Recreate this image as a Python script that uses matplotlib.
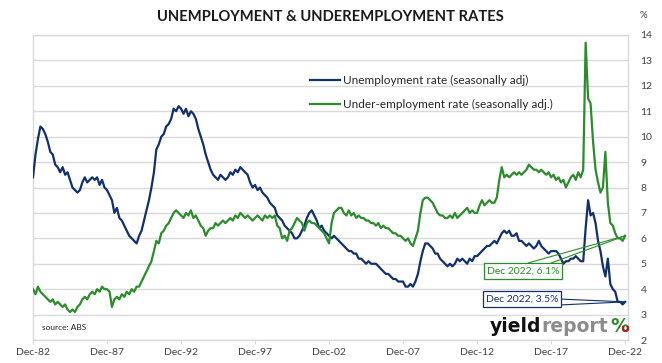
import matplotlib
matplotlib.use('Agg')
import matplotlib.pyplot as plt
import pandas as pd
from matplotlib.transforms import Bbox

# bi-monthly readings (Dec, Feb, Apr, ...) from Dec 1982 to Dec 2022
dates = pd.date_range('1982-12-01', '2022-12-01', freq='2MS')

unemployment = [8.4,
    9.3, 9.9, 10.4, 10.3, 10.1, 9.8,     # 1983
    9.4, 9.3, 8.9, 8.8, 8.6, 8.8,        # 1984
    8.5, 8.6, 8.3, 8.0, 7.9, 7.8,        # 1985
    7.9, 8.2, 8.4, 8.2, 8.3, 8.4,        # 1986
    8.3, 8.4, 8.1, 8.3, 8.0, 7.9,        # 1987
    7.7, 7.5, 7.0, 7.2, 6.8, 6.7,        # 1988
    6.5, 6.3, 6.1, 6.0, 5.9, 5.8,        # 1989
    6.1, 6.3, 6.7, 7.1, 7.5, 8.0,        # 1990
    8.6, 9.5, 9.7, 10.0, 10.1, 10.4,     # 1991
    10.5, 10.7, 11.1, 11.0, 11.2, 11.1,  # 1992
    10.9, 11.1, 10.8, 11.0, 10.9, 10.7,  # 1993
    10.3, 10.0, 9.7, 9.3, 9.0, 8.7,      # 1994
    8.5, 8.4, 8.3, 8.5, 8.4, 8.3,        # 1995
    8.4, 8.6, 8.5, 8.7, 8.6, 8.8,        # 1996
    8.7, 8.6, 8.5, 8.2, 8.0, 8.1,        # 1997
    7.9, 8.0, 7.8, 7.7, 7.6, 7.4,        # 1998
    7.3, 7.2, 6.9, 6.8, 6.7, 6.5,        # 1999
    6.4, 6.3, 6.2, 6.0, 6.0, 6.1,        # 2000
    6.3, 6.5, 6.8, 7.0, 7.1, 6.9,        # 2001
    6.7, 6.4, 6.5, 6.3, 6.2, 6.1,        # 2002
    6.0, 6.1, 6.0, 5.9, 5.8, 5.7,        # 2003
    5.6, 5.5, 5.5, 5.4, 5.4, 5.2,        # 2004
    5.2, 5.1, 5.0, 5.1, 5.0, 5.0,        # 2005
    5.0, 4.9, 4.8, 4.7, 4.6, 4.6,        # 2006
    4.5, 4.4, 4.4, 4.3, 4.3, 4.3,        # 2007
    4.1, 4.1, 4.2, 4.1, 4.3, 4.6,        # 2008
    5.1, 5.5, 5.8, 5.8, 5.7, 5.6,        # 2009
    5.4, 5.4, 5.2, 5.1, 5.0, 4.9,        # 2010
    5.0, 4.9, 5.0, 5.2, 5.1, 5.2,        # 2011
    5.1, 5.0, 5.2, 5.1, 5.3, 5.3,        # 2012
    5.4, 5.5, 5.6, 5.7, 5.7, 5.8,        # 2013
    5.9, 5.8, 6.0, 6.2, 6.3, 6.2,        # 2014
    6.3, 6.1, 6.1, 6.2, 5.9, 5.9,        # 2015
    5.8, 5.7, 5.8, 5.7, 5.6, 5.7,        # 2016
    5.9, 5.7, 5.6, 5.5, 5.4, 5.5,        # 2017
    5.5, 5.5, 5.4, 5.2, 5.0, 5.1,        # 2018
    5.1, 5.2, 5.2, 5.3, 5.2, 5.1,        # 2019
    5.1, 6.4, 7.5, 6.9, 7.0, 6.6,        # 2020
    5.9, 5.5, 4.9, 4.5, 5.2, 4.2,        # 2021
    4.0, 3.9, 3.5, 3.5, 3.4, 3.5]        # 2022

underemployment = [4.0,
    3.8, 4.1, 3.9, 3.8, 3.7, 3.6,        # 1983
    3.5, 3.6, 3.4, 3.5, 3.4, 3.3,        # 1984
    3.4, 3.2, 3.1, 3.2, 3.1, 3.3,        # 1985
    3.4, 3.6, 3.7, 3.6, 3.8, 3.9,        # 1986
    3.8, 4.0, 3.9, 4.1, 4.0, 4.0,        # 1987
    3.9, 3.3, 3.6, 3.7, 3.6, 3.8,        # 1988
    3.7, 3.9, 3.8, 4.0, 3.9, 4.1,        # 1989
    4.1, 4.3, 4.5, 4.7, 4.9, 5.1,        # 1990
    5.5, 5.9, 5.8, 6.2, 6.3, 6.5,        # 1991
    6.6, 6.8, 7.0, 7.1, 7.0, 6.9,        # 1992
    6.8, 7.0, 6.9, 7.1, 6.8, 6.9,        # 1993
    6.7, 6.5, 6.4, 6.1, 6.3, 6.4,        # 1994
    6.4, 6.6, 6.5, 6.6, 6.7, 6.6,        # 1995
    6.7, 6.8, 6.7, 6.9, 6.8, 7.0,        # 1996
    6.9, 6.8, 6.9, 6.8, 6.7, 6.8,        # 1997
    6.9, 6.8, 6.7, 6.9, 6.8, 6.9,        # 1998
    6.8, 6.9, 6.5, 6.4, 6.0, 6.1,        # 1999
    5.9, 6.3, 6.4, 6.6, 6.8, 6.7,        # 2000
    6.6, 6.3, 6.6, 6.7, 6.6, 6.6,        # 2001
    6.5, 6.4, 6.3, 6.2, 6.0, 5.8,        # 2002
    6.6, 7.0, 7.1, 7.2, 7.2, 7.0,        # 2003
    6.9, 7.1, 6.9, 7.0, 6.8, 6.9,        # 2004
    6.8, 6.8, 6.7, 6.7, 6.6, 6.6,        # 2005
    6.5, 6.6, 6.4, 6.5, 6.4, 6.4,        # 2006
    6.3, 6.2, 6.2, 6.1, 6.1, 6.0,        # 2007
    5.9, 6.0, 5.8, 5.7, 6.0, 6.3,        # 2008
    7.0, 7.5, 7.6, 7.6, 7.5, 7.4,        # 2009
    7.2, 7.0, 6.9, 6.9, 6.8, 6.8,        # 2010
    6.9, 6.8, 7.0, 6.8, 6.9, 7.0,        # 2011
    7.1, 7.2, 7.0, 7.1, 7.0, 7.0,        # 2012
    7.3, 7.5, 7.3, 7.4, 7.5, 7.4,        # 2013
    7.4, 7.6, 8.3, 8.8, 8.4, 8.5,        # 2014
    8.4, 8.5, 8.6, 8.5, 8.6, 8.5,        # 2015
    8.6, 8.7, 8.9, 8.8, 8.7, 8.7,        # 2016
    8.6, 8.7, 8.6, 8.5, 8.6, 8.4,        # 2017
    8.5, 8.3, 8.4, 8.2, 8.3, 8.0,        # 2018
    8.2, 8.4, 8.5, 8.3, 8.6, 8.4,        # 2019
    8.7, 13.7, 11.5, 11.3, 9.8, 8.7,     # 2020
    8.2, 7.8, 8.0, 9.4, 7.4, 6.6,        # 2021
    6.5, 6.2, 6.0, 6.0, 5.9, 6.1]        # 2022

tick_years = [1982, 1987, 1992, 1997, 2002, 2007, 2012, 2017, 2022]
tick_labels = ['Dec-82', 'Dec-87', 'Dec-92', 'Dec-97', 'Dec-02',
               'Dec-07', 'Dec-12', 'Dec-17', 'Dec-22']

blue = '#12306e'
green = '#2b8c2b'
grid_col = '#d9d9d9'
txt_col = '#404040'
font = 'Lato'

W, H = 662, 363
fig = plt.figure(figsize=(W / 100, H / 100), dpi=100)
ax = fig.add_axes([33 / W, 1 - 340 / H, (628 - 33) / W, (340 - 35) / H])

ax.plot(dates, unemployment, color=blue, lw=1.6, label='Unemployment rate (seasonally adj)', zorder=3)
ax.plot(dates, underemployment, color=green, lw=1.6, label='Under-employment rate (seasonally adj.)', zorder=3)

ax.set_ylim(2, 14)
ax.set_yticks(range(2, 15))
ax.set_xlim(pd.Timestamp('1982-12-01'), pd.Timestamp('2023-02-10'))
ax.set_xticks([pd.Timestamp(f'{y}-12-01') for y in tick_years])
ax.set_xticklabels(tick_labels)

ax.yaxis.tick_right()
ax.grid(axis='y', color=grid_col, lw=1)
ax.set_axisbelow(True)
for s in ax.spines.values():
    s.set_color(grid_col)
    s.set_linewidth(1)
ax.tick_params(axis='y', length=0, pad=9, labelsize=7.5, labelcolor=txt_col)
ax.tick_params(axis='x', length=3, color=grid_col, pad=3, labelsize=7.5, labelcolor=txt_col)
for lab in ax.get_xticklabels() + ax.get_yticklabels():
    lab.set_family(font)

# title and small labels
fig.text(330 / W, 1 - 17 / H, 'UNEMPLOYMENT & UNDEREMPLOYMENT RATES', ha='center', va='center',
         fontsize=10.6, fontweight='bold', family=font, color='#1a1a1a')
fig.text(643 / W, 1 - 15 / H, '%', ha='center', va='center', fontsize=7, family=font, color=txt_col)
fig.text(42 / W, 1 - 328 / H, 'source: ABS', ha='left', va='center', fontsize=6, family=font, color='#222222')

leg = ax.legend(loc='upper left', bbox_to_anchor=(299 / W, 1 - 64 / H), bbox_transform=fig.transFigure,
                frameon=False, handlelength=2.6, handletextpad=0.2, labelspacing=1.15,
                prop={'family': font, 'size': 8.5})
for t in leg.get_texts():
    t.set_color('#262626')

# callouts for the latest values
end_u = (dates[-1], unemployment[-1])
end_g = (dates[-1], underemployment[-1])
line_kw = dict(arrowstyle='-', lw=0.8, shrinkA=0, shrinkB=0)
for px in (528, 551):
    ax.annotate('', xy=end_g, xytext=(px, H - 263), textcoords='figure pixels',
                arrowprops=dict(color=green, **line_kw), zorder=4)
for py in (299, 305):
    ax.annotate('', xy=end_u, xytext=(559, H - py), textcoords='figure pixels',
                arrowprops=dict(color=blue, **line_kw), zorder=4)
ax.annotate(f'Dec 2022, {underemployment[-1]}%', xy=end_g, xytext=(523, H - 271), textcoords='figure pixels',
            ha='center', va='center', fontsize=7.5, family=font, color=green, zorder=5,
            bbox=dict(boxstyle='square,pad=0.3', fc='white', ec=green, lw=0.9))
ax.annotate(f'Dec 2022, {unemployment[-1]}%', xy=end_u, xytext=(522, H - 299), textcoords='figure pixels',
            ha='center', va='center', fontsize=7.5, family=font, color=blue, zorder=5,
            bbox=dict(boxstyle='square,pad=0.3', fc='white', ec=blue, lw=0.9))

# yieldreport logo
fig.canvas.draw()
r = fig.canvas.get_renderer()
y_logo = 1 - 327 / H
logo_kw = dict(ha='left', va='center', fontsize=13.5, fontweight='bold', family='DejaVu Sans')
t1 = fig.text(490 / W, y_logo, 'yield', color='#111111', **logo_kw)
x1 = t1.get_window_extent(r).x1
t2 = fig.text(x1 / W, y_logo, 'report', color='#8c8c8c', **logo_kw)
x2 = t2.get_window_extent(r).x1 + 2
# two-tone percent sign: green on top, red underneath
t3 = fig.text(x2 / W, y_logo, '%', color='#2b8c2b', **logo_kw)
bb = t3.get_window_extent(r)
t4 = fig.text(x2 / W, y_logo, '%', color='#c0141c', **logo_kw)
t4.set_clip_box(Bbox.from_extents(bb.x0 + bb.width * 0.45, bb.y0, bb.x1 + 2, bb.y0 + bb.height * 0.55))
t4.set_clip_on(True)

fig.savefig('out.png', dpi=100)
